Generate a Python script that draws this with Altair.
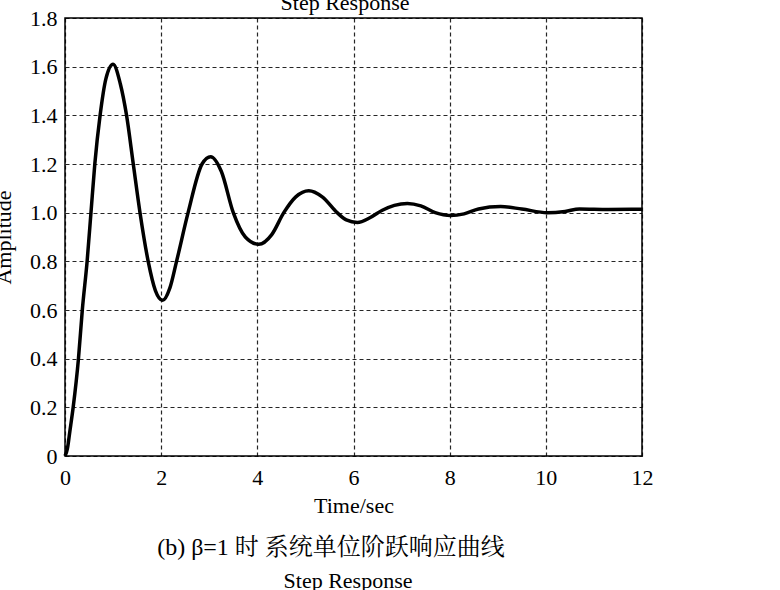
import altair as alt
import pandas as pd

# Step response (time in sec, amplitude)
time_s = [0, 0.05, 0.1, 0.17, 0.28, 0.36, 0.46, 0.54, 0.62, 0.73, 0.85, 1.0,
          1.15, 1.28, 1.42, 1.56, 1.73, 1.88, 2.03, 2.18, 2.32, 2.56, 2.85, 3.03,
          3.25, 3.5, 3.75, 4.03, 4.3, 4.55, 4.8, 5.07, 5.35, 5.66, 5.85, 6.08,
          6.35, 6.6, 6.85, 7.12, 7.4, 7.7, 8.02, 8.3, 8.6, 9.06, 9.5, 10.03,
          10.4, 10.7, 11.3, 12.0]
amplitude = [0, 0.03, 0.10, 0.20, 0.40, 0.60, 0.80, 1.00, 1.20, 1.40, 1.55, 1.61,
             1.53, 1.40, 1.20, 1.00, 0.80, 0.68, 0.64, 0.69, 0.80, 1.00, 1.20, 1.23,
             1.17, 1.00, 0.90, 0.87, 0.91, 1.00, 1.065, 1.09, 1.065, 1.00, 0.97, 0.96,
             0.98, 1.01, 1.03, 1.038, 1.028, 1.00, 0.988, 0.995, 1.015, 1.025, 1.015, 1.00,
             1.005, 1.015, 1.013, 1.014]

x_ticks = [0, 2, 4, 6, 8, 10, 12]
y_ticks = [0, 0.2, 0.4, 0.6, 0.8, 1.0, 1.2, 1.4, 1.6, 1.8]

title_top = "Step Response"
x_title = "Time/sec"
y_title = "Amplitude"
caption = "(b) β=1 时 系统单位阶跃响应曲线"
title_next = "Step Response"

FONT = "Liberation Serif, Noto Serif CJK SC, Noto Sans CJK SC"

df = pd.DataFrame({"t": time_s, "y": amplitude})

W, H = 577, 438

line = alt.Chart(df).mark_line(color="black", strokeWidth=3.5, interpolate="monotone").encode(
    x=alt.X("t:Q", scale=alt.Scale(domain=[0, 12], nice=False),
            axis=alt.Axis(values=x_ticks, title=x_title, grid=True, tickSize=0,
                          labelPadding=11, titleY=49, titleBaseline="middle",
                          labelFlush=False, domain=False)),
    y=alt.Y("y:Q", scale=alt.Scale(domain=[0, 1.8], nice=False),
            axis=alt.Axis(values=y_ticks, title=y_title, grid=True, tickSize=0,
                          labelPadding=8, titleX=-55, titleY=H / 2,
                          labelFlush=False,
                          titleBaseline="alphabetic", domain=False,
                          labelExpr="datum.value == 0 ? '0' : format(datum.value, '.1f')")),
)

def text_layer(txt, x, y, size=22, baseline="middle"):
    return alt.Chart(pd.DataFrame({"s": [txt]})).mark_text(
        font=FONT, fontSize=size, color="black", baseline=baseline, align="center"
    ).encode(text="s:N", x=alt.value(x), y=alt.value(y))

chart = alt.layer(
    line,
    text_layer(title_top, 280, -8.5, 22, "alphabetic"),
    text_layer(caption, 266, 530, 24),
    text_layer(title_next, 283, 570, 22, "alphabetic"),
).properties(
    width=W, height=H,
    padding={"left": 65, "top": 18, "right": 138, "bottom": 134},
    autosize=alt.AutoSizeParams(type="none"),
    background="white",
).configure_view(
    stroke="black", strokeWidth=1.5
).configure_axis(
    labelFont=FONT, titleFont=FONT, labelFontSize=22, titleFontSize=22,
    labelColor="black", titleColor="black", titleFontWeight="normal",
    gridColor="black", gridDash=[4, 3], gridWidth=1.2, gridOpacity=0.85,
)

chart.save("out.html", embed_options={"renderer": "svg", "actions": False})
